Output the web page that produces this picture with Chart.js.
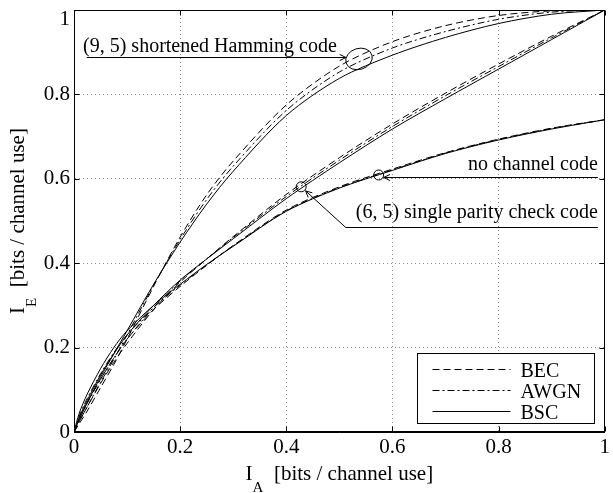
<!DOCTYPE html>
<html><head><meta charset="utf-8">
<script src="https://cdn.jsdelivr.net/npm/chart.js@4.4.1/dist/chart.umd.min.js"></script>
<style>html,body{margin:0;padding:0;background:#fff;}canvas{display:block;}</style>
</head><body>
<canvas id="c" width="613" height="493"></canvas>
<script>
// ---- data ----
const IA = [0, 0.01, 0.025, 0.05, 0.075, 0.1, 0.15, 0.2, 0.25, 0.3, 0.4, 0.5, 0.6, 0.7, 0.8, 0.9, 1];

const hammingBEC  = [0, 0.020, 0.050, 0.105, 0.160, 0.220, 0.345, 0.462, 0.562, 0.642, 0.775, 0.867, 0.925, 0.963, 0.987, 0.998, 1];
const hammingAWGN = [0, 0.025, 0.060, 0.118, 0.172, 0.230, 0.348, 0.456, 0.551, 0.630, 0.762, 0.853, 0.910, 0.949, 0.978, 0.995, 1];
const hammingBSC  = [0, 0.030, 0.070, 0.130, 0.185, 0.240, 0.350, 0.450, 0.540, 0.618, 0.750, 0.838, 0.893, 0.935, 0.968, 0.990, 1];

const spcBEC  = [0, 0.025, 0.060, 0.115, 0.165, 0.210, 0.290, 0.355, 0.410, 0.463, 0.563, 0.650, 0.730, 0.803, 0.872, 0.938, 1];
const spcAWGN = [0, 0.030, 0.068, 0.125, 0.175, 0.220, 0.295, 0.358, 0.410, 0.461, 0.558, 0.644, 0.724, 0.797, 0.866, 0.934, 1];
const spcBSC  = [0, 0.035, 0.075, 0.135, 0.185, 0.230, 0.300, 0.360, 0.410, 0.458, 0.553, 0.638, 0.718, 0.790, 0.860, 0.930, 1];

const noCodeBEC  = [0, 0.030, 0.070, 0.125, 0.175, 0.220, 0.290, 0.345, 0.395, 0.442, 0.526, 0.581, 0.623, 0.662, 0.694, 0.720, 0.74];
const noCodeAWGN = [0, 0.038, 0.080, 0.138, 0.188, 0.230, 0.295, 0.348, 0.396, 0.441, 0.524, 0.579, 0.621, 0.661, 0.693, 0.719, 0.74];
const noCodeBSC  = [0, 0.045, 0.090, 0.150, 0.200, 0.240, 0.300, 0.350, 0.397, 0.440, 0.523, 0.578, 0.620, 0.660, 0.692, 0.718, 0.74];

const channels = ['BEC', 'AWGN', 'BSC'];
const xTickValues = [0, 0.2, 0.4, 0.6, 0.8, 1];
const xTickLabels = ['0', '0.2', '0.4', '0.6', '0.8', '1'];
const yTickValues = [0, 0.2, 0.4, 0.6, 0.8, 1];
const yTickLabels = ['0', '0.2', '0.4', '0.6', '0.8', '1'];

// annotation anchors (data units)
const hammingMark = {x: 0.537, y: 0.884};
const spcMark     = {x: 0.428, y: 0.581};
const noCodeMark  = {x: 0.574, y: 0.609};
const hammingText = '(9, 5) shortened Hamming code';
const noCodeText  = 'no channel code';
const spcText     = '(6, 5) single parity check code';

// ---- styles ----
const dashes = {BEC: [7, 4], AWGN: [7, 3, 2, 3], BSC: []};
const SERIF = '"Liberation Serif", "DejaVu Serif", serif';

function mk(label, channel, ys) {
  return {
    label: label, channel: channel,
    data: IA.map((x, i) => ({x: x, y: ys[i]})),
    borderColor: '#000', borderWidth: 1, borderDash: dashes[channel],
    pointRadius: 0, fill: false, tension: 0.3
  };
}

const datasets = [
  mk('Hamming BEC', 'BEC', hammingBEC), mk('Hamming AWGN', 'AWGN', hammingAWGN), mk('Hamming BSC', 'BSC', hammingBSC),
  mk('SPC BEC', 'BEC', spcBEC), mk('SPC AWGN', 'AWGN', spcAWGN), mk('SPC BSC', 'BSC', spcBSC),
  mk('No code BEC', 'BEC', noCodeBEC), mk('No code AWGN', 'AWGN', noCodeAWGN), mk('No code BSC', 'BSC', noCodeBSC)
];

function arrowHead(ctx, fx, fy, tx, ty) {
  const ang = Math.atan2(ty - fy, tx - fx), L = 7, W = 0.45;
  ctx.beginPath();
  ctx.moveTo(tx - L * Math.cos(ang - W), ty - L * Math.sin(ang - W));
  ctx.lineTo(tx, ty);
  ctx.lineTo(tx - L * Math.cos(ang + W), ty - L * Math.sin(ang + W));
  ctx.stroke();
}

const overlay = {
  id: 'overlay',
  afterDraw(chart) {
    const ctx = chart.ctx, xs = chart.scales.x, ys = chart.scales.y, a = chart.chartArea;
    const X = v => xs.getPixelForValue(v), Y = v => ys.getPixelForValue(v);
    ctx.save();
    ctx.strokeStyle = '#000'; ctx.fillStyle = '#000'; ctx.lineWidth = 1; ctx.setLineDash([]);
    const L = Math.round(a.left) + 0.5, R = Math.round(a.right) - 0.5, T = Math.round(a.top) + 0.5, B = Math.round(a.bottom) - 0.5;
    ctx.strokeRect(L, T, R - L, B - T);
    // inward ticks
    ctx.beginPath();
    yTickValues.forEach(v => { const y = Math.round(Y(v)) + 0.5; ctx.moveTo(L, y); ctx.lineTo(L + 5, y); ctx.moveTo(R, y); ctx.lineTo(R - 5, y); });
    xTickValues.forEach(v => { const x = Math.round(X(v)) + 0.5; ctx.moveTo(x, B); ctx.lineTo(x, B - 5); ctx.moveTo(x, T); ctx.lineTo(x, T + 5); });
    ctx.stroke();
    // y tick labels
    ctx.font = '21px ' + SERIF; ctx.textAlign = 'right'; ctx.textBaseline = 'middle';
    yTickValues.forEach((v, i) => { ctx.fillText(yTickLabels[i], a.left - 4, Math.max(Y(v), a.top + 9)); });

    // axis titles with subscripts
    function titleParts(sub) {
      ctx.font = '21px ' + SERIF; const wI = ctx.measureText('I').width;
      ctx.font = '15px ' + SERIF; const wS = ctx.measureText(sub).width;
      ctx.font = '21px ' + SERIF; const wR = ctx.measureText('  [bits / channel use]').width;
      return {wI, wS, wR, total: wI + wS + wR};
    }
    function drawTitle(sub, x0, base) {
      const p = titleParts(sub);
      ctx.textAlign = 'left'; ctx.textBaseline = 'alphabetic';
      ctx.font = '21px ' + SERIF; ctx.fillText('I', x0, base);
      ctx.font = '15px ' + SERIF; ctx.fillText(sub, x0 + p.wI, base + 12);
      ctx.font = '21px ' + SERIF; ctx.fillText('  [bits / channel use]', x0 + p.wI + p.wS, base);
      return p;
    }
    const px = titleParts('A');
    drawTitle('A', (a.left + a.right) / 2 - px.total / 2, 480);
    ctx.save();
    ctx.translate(23.5, (a.top + a.bottom) / 2);
    ctx.rotate(-Math.PI / 2);
    const py = titleParts('E');
    drawTitle('E', -py.total / 2, 0);
    ctx.restore();

    // annotations
    ctx.font = '20px ' + SERIF; ctx.textBaseline = 'alphabetic';
    // Hamming
    const hx = X(hammingMark.x), hy = Y(hammingMark.y);
    ctx.beginPath(); ctx.ellipse(hx, hy, 13.5, 10.5, -0.3, 0, 2 * Math.PI); ctx.stroke();
    ctx.textAlign = 'left';
    ctx.fillText(hammingText, X(0.017), Y(0.9005));
    const hly = Math.round(Y(0.889)) + 0.5;
    ctx.beginPath(); ctx.moveTo(X(0.024), hly); ctx.lineTo(hx - 13, hly); ctx.stroke();
    arrowHead(ctx, X(0.024), hly, hx - 13, hly);
    // no channel code
    const nx = X(noCodeMark.x), ny = Y(noCodeMark.y);
    ctx.beginPath(); ctx.arc(nx, ny, 5, 0, 2 * Math.PI); ctx.stroke();
    ctx.textAlign = 'right';
    ctx.fillText(noCodeText, X(0.987), Y(0.621));
    const nly = Math.round(Y(0.604)) + 0.5;
    ctx.beginPath(); ctx.moveTo(X(0.987), nly); ctx.lineTo(nx + 5, nly); ctx.stroke();
    arrowHead(ctx, X(0.987), nly, nx + 5, nly);
    // SPC
    const sx = X(spcMark.x), sy = Y(spcMark.y);
    ctx.beginPath(); ctx.arc(sx, sy, 5, 0, 2 * Math.PI); ctx.stroke();
    ctx.fillText(spcText, X(0.987), Y(0.507));
    const sly = Math.round(Y(0.486)) + 0.5, sxl = X(0.512);
    const dx = sx - sxl, dy = sy - sly, dl = Math.hypot(dx, dy);
    const tx = sx - dx / dl * 6, ty = sy - dy / dl * 6;
    ctx.beginPath(); ctx.moveTo(X(0.987), sly); ctx.lineTo(sxl, sly); ctx.lineTo(tx, ty); ctx.stroke();
    arrowHead(ctx, sxl, sly, tx, ty);

    // legend
    const bx = Math.round(a.right) - 187.5, by = Math.round(a.bottom) - 78.5, bw = 177, bh = 70;
    ctx.fillStyle = '#fff'; ctx.fillRect(bx, by, bw, bh);
    ctx.strokeRect(bx, by, bw, bh);
    ctx.fillStyle = '#000'; ctx.textAlign = 'left';
    ctx.font = '20px ' + SERIF;
    const rows = [15.5, 36.5, 57.5];
    channels.forEach((ch, i) => {
      const yy = Math.round(by + rows[i]) + 0.5;
      ctx.setLineDash(dashes[ch]);
      ctx.beginPath(); ctx.moveTo(bx + 15, yy); ctx.lineTo(bx + 93, yy); ctx.stroke();
      ctx.setLineDash([]);
      ctx.fillText(ch, bx + 103, yy + 7);
    });
    ctx.restore();
  }
};

new Chart(document.getElementById('c'), {
  type: 'line',
  data: {datasets: datasets},
  options: {
    responsive: false, animation: false, devicePixelRatio: 1,
    layout: {padding: {left: 0, right: 4, top: 10, bottom: 0}},
    plugins: {legend: {display: false}, tooltip: {enabled: false}},
    scales: {
      x: {
        type: 'linear', min: 0, max: 1,
        afterBuildTicks: s => { s.ticks = xTickValues.map(v => ({value: v})); },
        afterFit: s => { s.height = 61; },
        ticks: {callback: (v, i) => xTickLabels[i], font: {family: SERIF, size: 21}, color: '#000', padding: 3, maxRotation: 0},
        grid: {color: '#8a8a8a', drawTicks: false, lineWidth: 1},
        border: {display: true, color: '#000', width: 1, dash: [1, 3]}
      },
      y: {
        type: 'linear', min: 0, max: 1,
        afterBuildTicks: s => { s.ticks = yTickValues.map(v => ({value: v})); },
        afterFit: s => { s.width = 74; },
        ticks: {display: false},
        grid: {color: '#8a8a8a', drawTicks: false, lineWidth: 1},
        border: {display: true, color: '#000', width: 1, dash: [1, 3]}
      }
    }
  },
  plugins: [overlay]
});
</script>
</body></html>
